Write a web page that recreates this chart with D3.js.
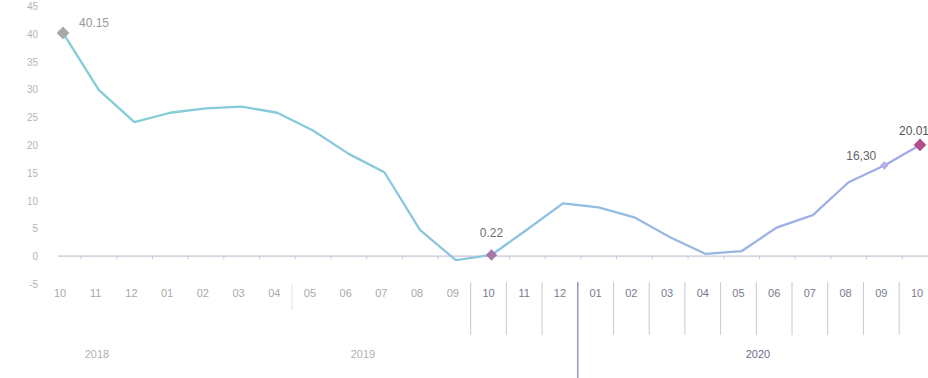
<!DOCTYPE html>
<html><head><meta charset="utf-8">
<script src="https://cdn.jsdelivr.net/npm/d3@7"></script>
<style>body{margin:0;background:#fff;}svg{display:block;font-family:"Liberation Sans",Arial,sans-serif;}</style>
</head><body><svg id="c" width="928" height="378"></svg>
<script>
const months = ["10","11","12","01","02","03","04","05","06","07","08","09","10","11","12","01","02","03","04","05","06","07","08","09","10"];
const values = [40.15,29.9,24.1,25.8,26.6,26.9,25.8,22.6,18.4,15.1,4.7,-0.7,0.22,4.8,9.5,8.8,7.0,3.4,0.4,0.9,5.2,7.4,13.3,16.30,20.01];
const yTicks = [45,40,35,30,25,20,15,10,5,0,-5];
const years = [{label:"2018"},{label:"2019"},{label:"2020"}];
const labelled = [{i:0,text:"40.15"},{i:12,text:"0.22"},{i:23,text:"16,30"},{i:24,text:"20.01"}];

const svg = d3.select("#c");
const x = d3.scalePoint().domain(d3.range(months.length)).range([63,920]);
const y = d3.scaleLinear().domain([-5,45]).range([284,6]);

const defs = svg.append("defs");
const grad = defs.append("linearGradient").attr("id","lg").attr("x1","0").attr("x2","1");
grad.append("stop").attr("offset","0").attr("stop-color","#7fd0d4");
grad.append("stop").attr("offset","0.5").attr("stop-color","#8cc4e0");
grad.append("stop").attr("offset","1").attr("stop-color","#a2a9e6");

// y labels
svg.append("g").selectAll("text").data(yTicks).join("text")
  .attr("x",38).attr("y",d=>y(d)+4).attr("text-anchor","end")
  .attr("font-size",10).attr("fill","#b5b5b5").text(d=>d);

// zero baseline
svg.append("line").attr("x1",58).attr("x2",928).attr("y1",y(0)).attr("y2",y(0))
  .attr("stroke","#c9c3d6").attr("stroke-width",1.2);
svg.append("g").selectAll("line").data(d3.range(months.length)).join("line")
  .attr("x1",d=>x(d)+18).attr("x2",d=>x(d)+18).attr("y1",y(0)).attr("y2",y(0)+3)
  .attr("stroke","#c9c3d6").attr("stroke-width",1);

// line
svg.append("path").datum(values)
  .attr("d",d3.line().x((d,i)=>x(i)).y(d=>y(d)).curve(d3.curveLinear))
  .attr("fill","none").attr("stroke","url(#lg)").attr("stroke-width",2.3)
  .attr("stroke-linejoin","round");

// markers
const mcol = {0:"#a8a8a8",12:"#a777a8",23:"#b9acec",24:"#b04f8c"};
const msize = {0:9,12:8,23:6,24:9};
svg.append("g").selectAll("rect").data(labelled).join("rect")
  .attr("x",d=>x(d.i)-msize[d.i]/2).attr("y",d=>y(values[d.i])-msize[d.i]/2)
  .attr("width",d=>msize[d.i]).attr("height",d=>msize[d.i])
  .attr("fill",d=>mcol[d.i])
  .attr("transform",d=>`rotate(45,${x(d.i)},${y(values[d.i])})`);

// data labels
const lpos = {0:[16,-6,"start","#9a9a9a"],12:[0,-18,"middle","#707070"],23:[-8,-6,"end","#666"],24:[-6,-10,"middle","#555"]};
svg.append("g").selectAll("text").data(labelled).join("text")
  .attr("x",d=>x(d.i)+lpos[d.i][0]).attr("y",d=>y(values[d.i])+lpos[d.i][1])
  .attr("text-anchor",d=>lpos[d.i][2]).attr("fill",d=>lpos[d.i][3])
  .attr("font-size",12).text(d=>d.text);

// month labels
svg.append("g").selectAll("text").data(months).join("text")
  .attr("x",(d,i)=>x(i)-3).attr("y",297).attr("text-anchor","middle")
  .attr("font-size",11).attr("fill",(d,i)=>i<12?"#a8a8a8":"#7a7a90").text(d=>d);

// separators
const step = x.step();
const seps = d3.range(11,months.length);
svg.append("g").selectAll("line").data(seps).join("line")
  .attr("x1",i=>x(i)+step/2-3).attr("x2",i=>x(i)+step/2-3)
  .attr("y1",282).attr("y2",i=>i===14?378:335)
  .attr("stroke",i=>i===14?"#8a86b8":"#c8c8d8").attr("stroke-width",i=>i===14?1.3:1);
svg.append("line").attr("x1",x(6)+step/2-3).attr("x2",x(6)+step/2-3).attr("y1",284).attr("y2",310)
  .attr("stroke","#e2e2e2");

// year labels
const yearX = {"2018":97,"2019":363,"2020":758};
svg.append("g").selectAll("text").data(years).join("text")
  .attr("x",d=>yearX[d.label]).attr("y",358).attr("text-anchor","middle")
  .attr("font-size",11).attr("fill",d=>d.label==="2020"?"#6e6e8a":"#b0b0b0").text(d=>d.label);
</script></body></html>
